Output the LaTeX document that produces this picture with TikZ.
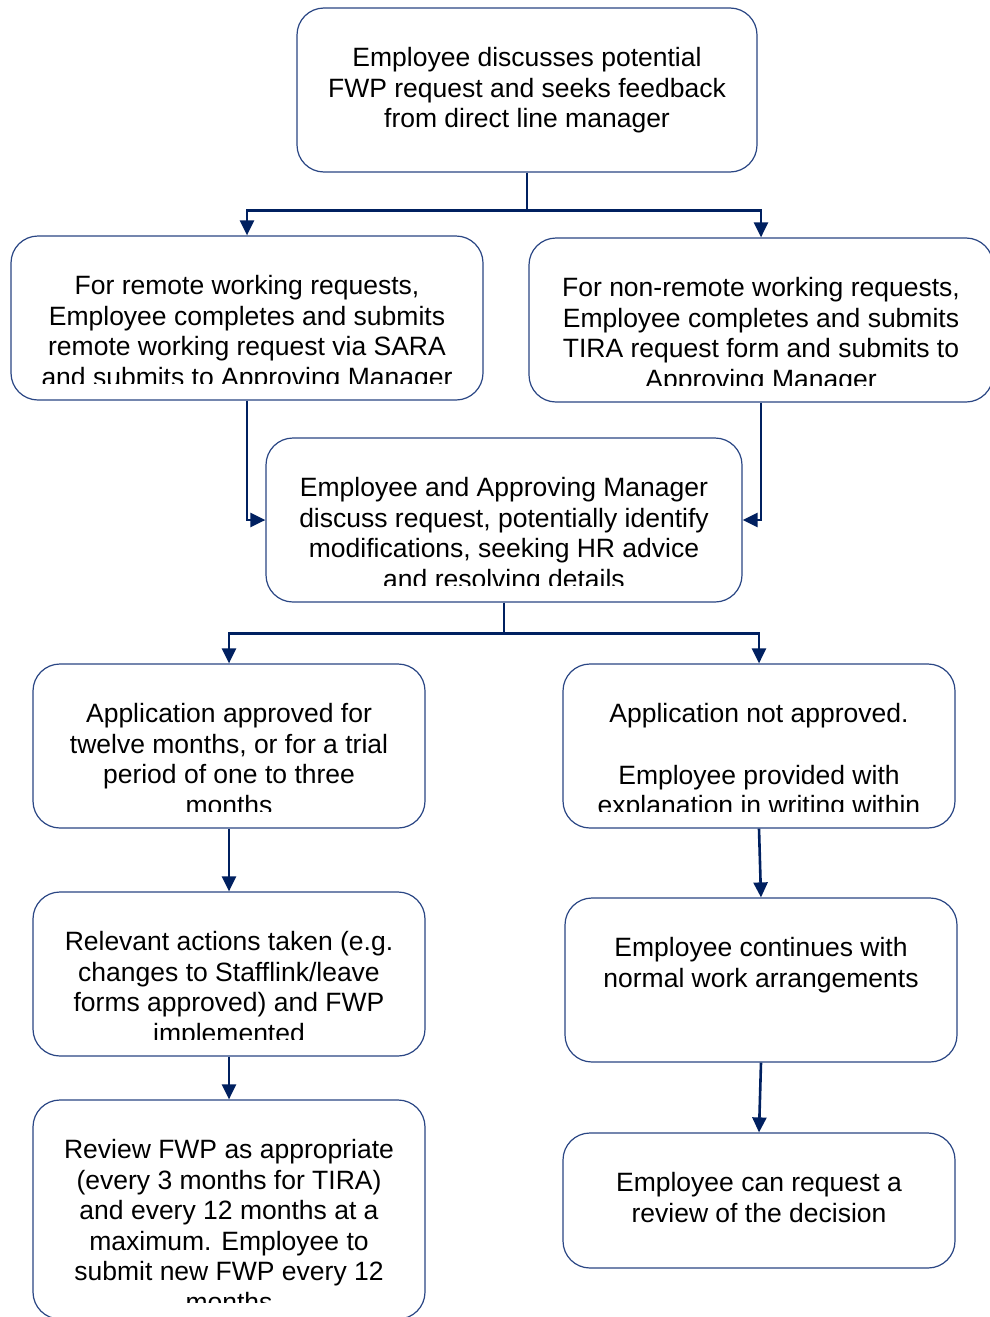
\documentclass[tikz,border=0pt]{standalone}
\usepackage{fontspec}
\setmainfont{Liberation Sans}
\usepackage{tikz}
\usetikzlibrary{arrows.meta,positioning,calc}
\definecolor{navy}{HTML}{002060}
\definecolor{boxline}{HTML}{2A4684}

\tikzset{
  card/.style={draw=boxline,line width=1.2pt,rounded corners=27pt,fill=white,inner sep=0pt},
  cardtxt/.style={font=\fontsize{26.5}{30.5}\selectfont,align=center,inner sep=0pt,text=black},
  link/.style={draw=navy,line width=2.6pt,-{Triangle[length=15pt,width=14pt]}}
}
% text sits at the top of a card and is cut off near its lower edge
\newcommand{\cardtext}[2]{%
  \begin{scope}
    \clip ([yshift=-2pt]#1.north west) rectangle ([yshift=17pt]#1.south east);
    \node[cardtxt,anchor=north] (#1-txt) at ([yshift=-40pt]#1.north) {#2};
  \end{scope}}

\begin{document}
\begin{tikzpicture}[x=1pt,y=-1pt]
\fill[white] (0,0) rectangle (990,1317);
\useasboundingbox (0,0) rectangle (990,1317);

% cards
\node[card,minimum width=460pt,minimum height=164pt] (ask) at (527,90) {};
\node[card,minimum width=472pt,minimum height=164pt] (remote) at (247,318) {};
\node[card,minimum width=464pt,minimum height=164pt] (nonremote) at (761,320) {};
\node[card,minimum width=476pt,minimum height=164pt] (discuss) at (504,520) {};
\node[card,minimum width=392pt,minimum height=164pt] (approved) at (229,746) {};
\node[card,minimum width=392pt,minimum height=164pt] (refused) at (759,746) {};
\node[card,minimum width=392pt,minimum height=164pt] (actions) at (229,974) {};
\node[card,minimum width=392pt,minimum height=164pt] (carryon) at (761,980) {};
\node[card,minimum width=392pt,minimum height=219pt] (reviewfwp) at (229,1209.5) {};
\node[card,minimum width=392pt,minimum height=135pt] (appeal) at (759,1200.5) {};

\cardtext{ask}{Employee discusses potential\\FWP request and seeks feedback\\from direct line manager}
\cardtext{remote}{For remote working requests,\\Employee completes and submits\\remote working request via SARA\\and submits to Approving Manager}
\cardtext{nonremote}{For non-remote working requests,\\Employee completes and submits\\TIRA request form and submits to\\Approving Manager}
\cardtext{discuss}{Employee and Approving Manager\\discuss request, potentially identify\\modifications, seeking HR advice\\and resolving details}
\cardtext{approved}{Application approved for\\twelve months, or for a trial\\period of one to three\\months}
\cardtext{refused}{Application not approved.\\[31pt]Employee provided with\\explanation in writing within}
\cardtext{actions}{Relevant actions taken (e.g.\\changes to Stafflink/leave\\forms approved) and FWP\\implemented}
\cardtext{carryon}{Employee continues with\\normal work arrangements}
\cardtext{reviewfwp}{Review FWP as appropriate\\(every 3 months for TIRA)\\and every 12 months at a\\maximum. Employee to\\submit new FWP every 12\\months}
\cardtext{appeal}{Employee can request a\\review of the decision}

% connectors
\coordinate (split1) at ($(ask.south)+(0,38)$);
\draw[draw=navy,line width=2.6pt] (ask.south) -- (split1);
\draw[link] (split1) -| (remote.north);
\draw[link] (split1) -| (nonremote.north);
\draw[link] (remote.south) |- (discuss.west);
\draw[link] (nonremote.south) |- (discuss.east);
\coordinate (split2) at ($(discuss.south)+(0,31)$);
\draw[draw=navy,line width=2.6pt] (discuss.south) -- (split2);
\draw[link] (split2) -| (approved.north);
\draw[link] (split2) -| (refused.north);
\draw[link] (approved.south) -- (actions.north);
\draw[link] (actions.south) -- (reviewfwp.north);
\draw[link] (refused.south) -- (carryon.north);
\draw[link] (carryon.south) -- (appeal.north);
\end{tikzpicture}
\end{document}
